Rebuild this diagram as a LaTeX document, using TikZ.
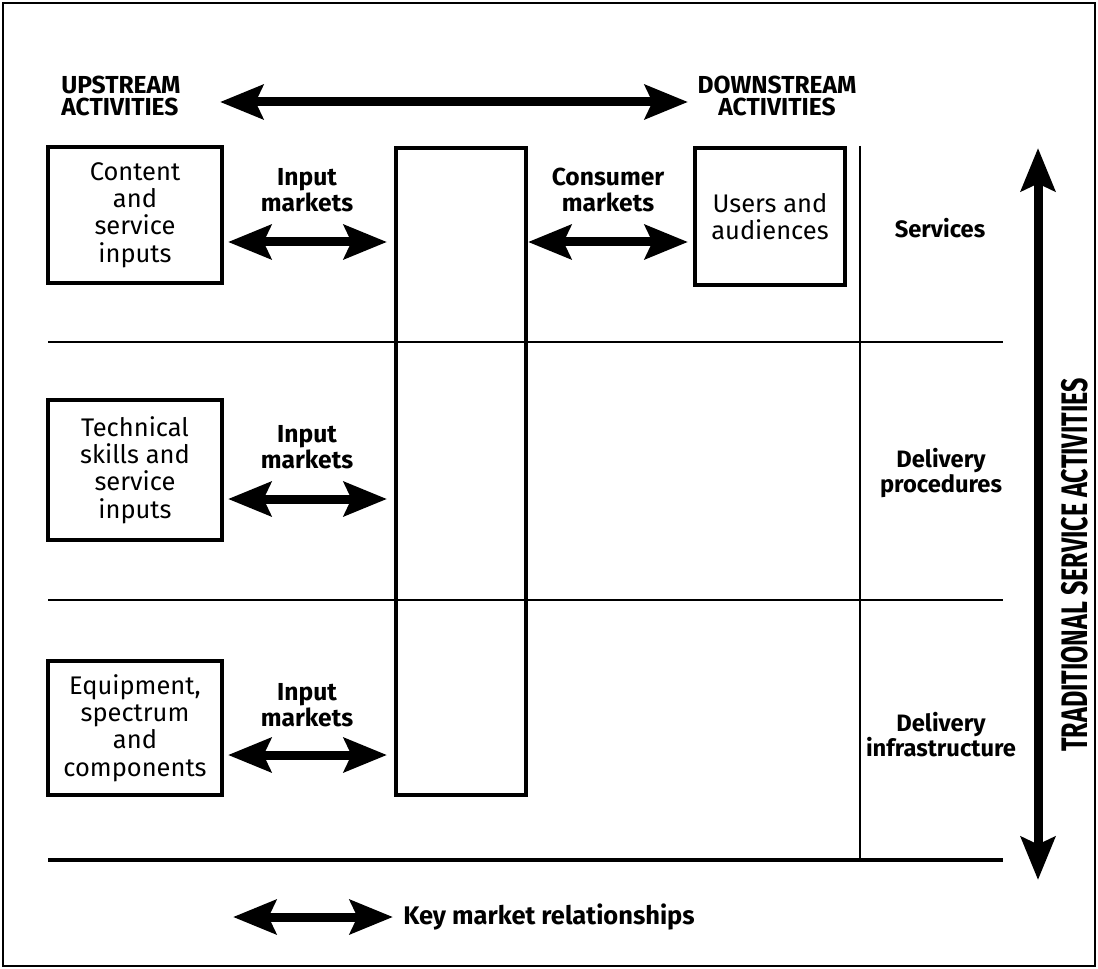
\documentclass[tikz,border=0pt]{standalone}
\usepackage{fontspec}
\setmainfont{Fira Sans}
\usetikzlibrary{arrows.meta}

\begin{document}
\begin{tikzpicture}[x=0.02cm, y=-0.02cm]

\tikzstyle{every node} = [inner sep=0pt, font=\fontsize{14.5}{15.6}\selectfont]
\tikzstyle{box} = [draw, line width=2.2pt, align=center, minimum width=3.48cm]
\tikzstyle{lbl} = [align=center, font=\bfseries\fontsize{14}{14.8}\selectfont]
\tikzstyle{layer} = [align=center, font=\bfseries\fontsize{13.5}{14.2}\selectfont]
\tikzstyle{head} = [font=\bfseries\fontsize{14}{12.5}\selectfont]
\tikzstyle{mkt} = [{Stealth[length=0.86cm,width=0.68cm,inset=0.15cm]}-{Stealth[length=0.86cm,width=0.68cm,inset=0.15cm]}, line width=0.18cm]
\tikzstyle{rule} = [line width=1.2pt]

\useasboundingbox (0,0) rectangle (1098,969);
\draw[line width=1.2pt] (3,3) rectangle (1095,966);

% headings
\node[head, align=left, anchor=west] (up) at (61,96) {UPSTREAM\\ACTIVITIES};
\node[head, align=center] (down) at (777,96) {DOWNSTREAM\\ACTIVITIES};
\draw[mkt] (220,102) -- (688,102);

% boxes
\node[box, minimum height=2.72cm] (cont) at (135,215) {Content\\and\\service\\inputs};
\node[box, minimum height=2.8cm] (tech) at (135,470) {Technical\\skills and\\service\\inputs};
\node[box, minimum height=2.68cm] (equip) at (135,728) {Equipment,\\spectrum\\and\\components};
\node[box, minimum width=2.6cm, minimum height=12.94cm] (mid) at (461,471.5) {};
\node[box, minimum width=3cm, minimum height=2.74cm] (users) at (770,216.5) {Users and\\audiences};

% market labels
\node[lbl] (in1) at (307,190) {Input\\markets};
\node[lbl] (in2) at (307,447) {Input\\markets};
\node[lbl] (in3) at (307,705) {Input\\markets};
\node[lbl] (cons) at (608,190) {Consumer\\markets};

\coordinate (a1) at (228,242);
\coordinate (b1) at (387,242);
\coordinate (a2) at (228,499);
\coordinate (b2) at (387,499);
\coordinate (a3) at (228,755);
\coordinate (b3) at (387,755);
\coordinate (c1) at (528,242);
\coordinate (c2) at (688,242);

\draw[mkt] (a1) -- (b1);
\draw[mkt] (a2) -- (b2);
\draw[mkt] (a3) -- (b3);
\draw[mkt] (c1) -- (c2);

% layers
\coordinate (h1l) at (48,342);
\coordinate (h1r) at (1003,342);
\coordinate (h2l) at (48,600);
\coordinate (h2r) at (1003,600);
\coordinate (h3l) at (48,860);
\coordinate (h3r) at (1003,860);
\coordinate (vt) at (860,146);

\draw[rule] (h1l) -- (h1r);
\draw[rule] (h2l) -- (h2r);
\draw[line width=2pt] (h3l) -- (h3r);
\draw[rule] (vt) -- (vt |- h3l);

\node[layer] (serv) at (940,228) {Services};
\node[layer] (proc) at (941,473) {Delivery\\procedures};
\node[layer] (infra) at (941,735) {Delivery\\infrastructure};

% right axis
\coordinate (rt) at (1038,148);
\coordinate (rb) at (1038,880);
\draw[mkt] (rt) -- (rb);
\node[font=\bfseries\fontsize{21}{22}\selectfont, rotate=90, xscale=0.68] (trad) at (1075,565) {TRADITIONAL SERVICE ACTIVITIES};

% legend
\coordinate (k1) at (233,917);
\coordinate (k2) at (393,917);
\draw[mkt] (k1) -- (k2);
\node[lbl, font=\bfseries\fontsize{14.5}{15}\selectfont, anchor=west] (key) at (403,917) {Key market relationships};

\end{tikzpicture}
\end{document}
